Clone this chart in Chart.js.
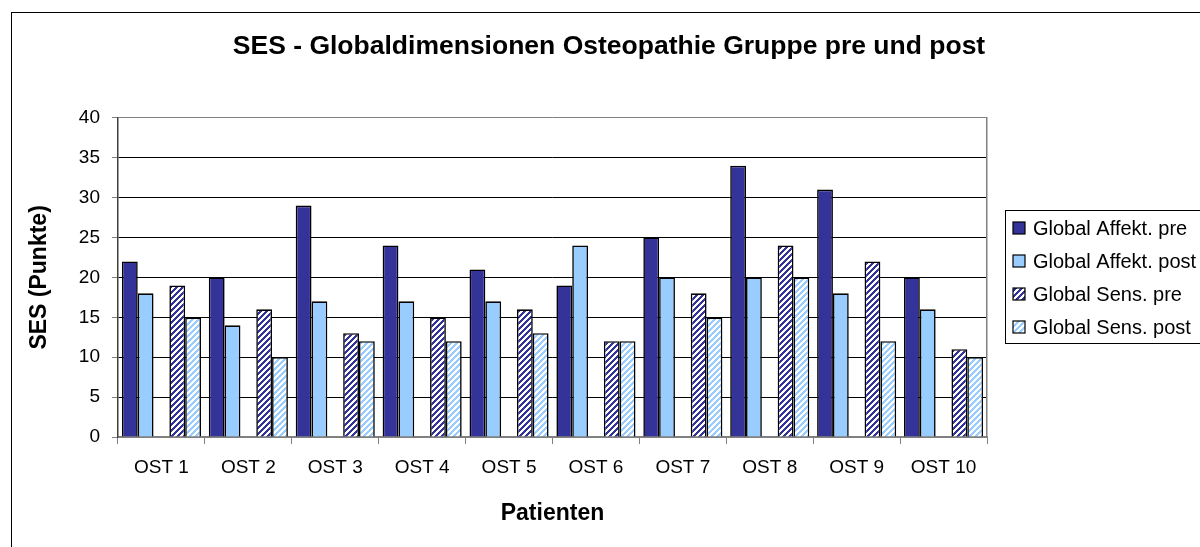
<!DOCTYPE html>
<html>
<head>
<meta charset="utf-8">
<title>SES - Globaldimensionen Osteopathie Gruppe pre und post</title>
<script src="https://cdn.jsdelivr.net/npm/chart.js@4/dist/chart.umd.min.js"></script>
<style>
  html, body { margin: 0; padding: 0; background: #fff; overflow: hidden; }
  #wrap { position: relative; width: 1200px; height: 547px; }
  #frame { position: absolute; left: 11px; top: 12px; width: 1300px; height: 700px;
           border-left: 1px solid #000; border-top: 1px solid #000; }
  #chart { position: absolute; left: 0; top: 0; }
</style>
</head>
<body>
<div id="wrap">
  <div id="frame"></div>
  <canvas id="chart" width="1200" height="547"></canvas>
</div>
<script>
// Werte
const patienten = ['OST 1', 'OST 2', 'OST 3', 'OST 4', 'OST 5', 'OST 6', 'OST 7', 'OST 8', 'OST 9', 'OST 10'];
const affektPre  = [22, 20, 29, 24, 21, 19, 25, 34, 31, 20];
const affektPost = [18, 14, 17, 17, 17, 24, 20, 20, 18, 16];
const sensPre    = [19, 16, 13, 15, 16, 12, 18, 24, 22, 11];
const sensPost   = [15, 10, 12, 12, 13, 12, 15, 20, 12, 10];
const yTicks = [0, 5, 10, 15, 20, 25, 30, 35, 40];

const FONT = 'Arial, "Liberation Sans", sans-serif';

// Schraffur-Muster (diagonal /)
const makeHatch = (color) => {
  const n = 6;
  const c = document.createElement('canvas');
  c.width = n;
  c.height = n;
  const g = c.getContext('2d');
  g.fillStyle = '#ffffff';
  g.fillRect(0, 0, n, n);
  g.fillStyle = color;
  for (let x = 0; x < n; x++) {
    for (let y = 0; y < n; y++) {
      if ((x + y) % n < 3) g.fillRect(x, y, 1, 1);
    }
  }
  return g.createPattern(c, 'repeat');
};

const datasets = [
  { label: 'Global Affekt. pre', data: affektPre, backgroundColor: '#333399' },
  { label: 'Global Affekt. post', data: affektPost, backgroundColor: '#99ccff' },
  { label: '', data: patienten.map(() => null), backgroundColor: 'transparent', spacer: true },
  { label: 'Global Sens. pre', data: sensPre, backgroundColor: makeHatch('#333399') },
  { label: 'Global Sens. post', data: sensPost, backgroundColor: makeHatch('#99ccff') },
].map((d) => ({
  ...d,
  borderColor: '#000000',
  borderWidth: 1.6,
  categoryPercentage: 0.91,
  barPercentage: 1.0,
}));

// Legende mit Rahmen rechts
const legendBox = {
  id: 'legendBox',
  afterDraw(chart) {
    const ctx = chart.ctx;
    const x0 = 1005, y0 = 210, w = 205, h = 133;
    ctx.save();
    ctx.fillStyle = '#ffffff';
    ctx.fillRect(x0, y0, w, h);
    ctx.strokeStyle = '#000000';
    ctx.lineWidth = 1;
    ctx.strokeRect(x0 + 0.5, y0 + 0.5, w, h);
    const items = chart.data.datasets.filter((d) => !d.spacer);
    ctx.font = '20px ' + FONT;
    ctx.textBaseline = 'middle';
    items.forEach((d, i) => {
      const cy = 228 + i * 33;
      ctx.fillStyle = d.backgroundColor;
      ctx.fillRect(1013, cy - 6, 12, 12);
      ctx.strokeStyle = '#000000';
      ctx.lineWidth = 1.2;
      ctx.strokeRect(1013, cy - 6, 12, 12);
      ctx.fillStyle = '#000000';
      ctx.fillText(d.label, 1033, cy + 1);
    });
    ctx.restore();
  },
};

const renderChart = () => {
  const ctx = document.getElementById('chart').getContext('2d');
  new Chart(ctx, {
    type: 'bar',
    data: { labels: patienten, datasets },
    options: {
      responsive: false,
      animation: false,
      layout: { padding: { left: 18, top: 13, right: 0, bottom: 0 } },
      plugins: {
        legend: { display: false },
        tooltip: { enabled: false },
        title: {
          display: true,
          text: 'SES - Globaldimensionen Osteopathie Gruppe pre und post',
          color: '#000',
          font: { family: FONT, size: 26.5, weight: 'bold' },
          padding: { top: 18, bottom: 55 },
        },
      },
      scales: {
        x: {
          grid: {
            display: true,
            drawOnChartArea: false,
            drawTicks: true,
            tickLength: 7,
            tickColor: '#808080',
            offset: true,
          },
          border: { display: true, color: '#808080', width: 1.5 },
          ticks: { color: '#000', font: { family: FONT, size: 19 }, padding: 12, maxRotation: 0 },
          title: {
            display: true,
            text: 'Patienten',
            color: '#000',
            font: { family: FONT, size: 23, weight: 'bold' },
            padding: { top: 0, bottom: 20 },
          },
          afterFit: (scale) => { scale.height = 110; },
        },
        y: {
          min: 0,
          max: 40,
          afterBuildTicks: (scale) => { scale.ticks = yTicks.map((v) => ({ value: v })); },
          grid: {
            color: (c) => (c.tick && (c.tick.value === 40 || c.tick.value === 0) ? '#808080' : '#000000'),
            lineWidth: 1,
            tickLength: 6,
            tickColor: '#808080',
          },
          border: { display: true, color: '#404040', width: 1.5 },
          ticks: { color: '#000', font: { family: FONT, size: 19 }, padding: 12 },
          title: {
            display: true,
            text: 'SES (Punkte)',
            color: '#000',
            font: { family: FONT, size: 23, weight: 'bold' },
            padding: { top: 8, bottom: 0 },
          },
          afterFit: (scale) => { scale.width = 100; },
        },
        yR: {
          type: 'linear',
          position: 'right',
          display: true,
          grid: { display: false, drawTicks: false },
          ticks: { display: false },
          border: { display: true, color: '#808080', width: 1.5 },
          afterFit: (scale) => { scale.width = 213; },
        },
      },
    },
    plugins: [legendBox],
  });
};

renderChart();
</script>
</body>
</html>
